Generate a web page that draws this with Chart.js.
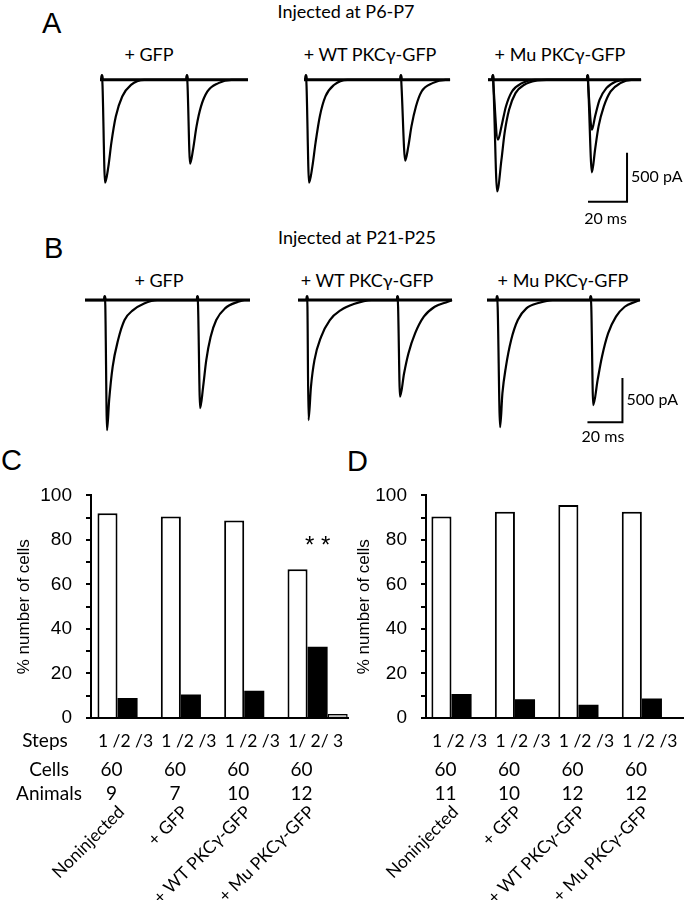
<!DOCTYPE html>
<html>
<head>
<meta charset="utf-8">
<script src="https://cdn.jsdelivr.net/npm/chart.js@4.4.0/dist/chart.umd.min.js"></script>
<style>
  body { margin: 0; background: #fff; }
  #fig { position: relative; width: 685px; height: 900px; overflow: hidden; color: #000; font-family: Lato, sans-serif; }
  #fig canvas { position: absolute; }
  .txt { position: absolute; white-space: nowrap; font-size: 18px; line-height: 1; transform: translate(-50%, -50%); }
  .letter { position: absolute; font-family: 'Liberation Sans', Arial, sans-serif; font-size: 29px; line-height: 1; transform: translateY(-50%); }
</style>
</head>
<body>
<div id="fig">
  <div class="letter" style="left:42px;top:23px">A</div>
  <div class="txt" style="left:346px;top:11px">Injected at P6-P7</div>
  <div class="txt" style="left:149px;top:54px">+ GFP</div>
  <div class="txt" style="left:370px;top:54px">+ WT PKCγ-GFP</div>
  <div class="txt" style="left:560px;top:54px">+ Mu PKCγ-GFP</div>

  <div class="letter" style="left:44px;top:248px">B</div>
  <div class="txt" style="left:357px;top:237px">Injected at P21-P25</div>
  <div class="txt" style="left:159px;top:280px">+ GFP</div>
  <div class="txt" style="left:367px;top:280px">+ WT PKCγ-GFP</div>
  <div class="txt" style="left:563px;top:280px">+ Mu PKCγ-GFP</div>

  <div class="letter" style="left:1px;top:460px">C</div>
  <div class="letter" style="left:347px;top:461px">D</div>
</div>
<script>
// ---- A: injected at P6-P7, traces as [ms, pA]
const aGfpFail = [[0,0],[0.8,0],[1.0,45],[1.3,0],[44.4,0],[44.6,45],[44.9,0],[75.9,0]];
const aGfpResp = [[0,0],[0.8,0],[1.0,45],[1.3,-60],[2.6,-1051],[4.3,-884],[5.8,-646],[8.1,-374],[11.4,-170],[15.9,-51],[22.7,0],
                  [44.4,0],[44.6,45],[44.9,-60],[46.2,-857],[47.7,-714],[49.5,-476],[51.8,-272],[55.1,-119],[60.7,-34],[67.4,0],[75.9,0]];
const aWtFail = [[0,0],[0.8,0],[1.0,45],[1.3,0],[49.5,0],[49.7,45],[50.0,0],[74.9,0]];
const aWtResp = [[0,0],[0.8,0],[1.0,45],[1.3,-60],[2.6,-1051],[4.3,-884],[5.9,-646],[8.1,-374],[11.0,-170],[15.5,-51],[22.2,0],
                 [49.5,0],[49.7,45],[50.0,-60],[51.9,-826],[53.5,-680],[55.1,-476],[57.4,-272],[60.3,-119],[65.9,-34],[72.6,0],[74.9,0]];
const aMuFail = [[0,0],[2.3,0],[2.5,45],[2.8,0],[50.9,0],[51.1,45],[51.4,0],[78.5,0]];
const aMuSmall = [[0,0],[2.3,0],[2.5,45],[2.8,-60],[5.1,-612],[6.9,-476],[9.2,-272],[12.3,-119],[17.4,-34],[24.1,0],
                  [50.9,0],[51.1,45],[51.4,-60],[53.3,-510],[54.9,-374],[57.2,-204],[60.7,-85],[65.6,-17],[70.1,0],[78.5,0]];
const aMuBig = [[0,0],[2.3,0],[2.5,45],[2.8,-60],[4.7,-1139],[6.9,-816],[8.5,-544],[10.8,-306],[14.1,-136],[18.6,-51],[25.3,-7],[30,0],
                [50.9,0],[51.1,45],[51.4,-60],[53.3,-945],[54.9,-714],[56.7,-476],[59.4,-272],[62.9,-119],[67.9,-34],[73.5,0],[78.5,0]];

// ---- B: injected at P21-P25
const bGfpFail = [[0,0],[11.1,0],[11.3,40],[11.6,0],[64.1,0],[64.3,40],[64.6,0],[94.3,0]];
const bGfpResp = [[0,0],[11.1,0],[11.3,40],[11.6,-60],[12.6,-1477],[13.8,-1136],[15.8,-758],[18.9,-454],[22.6,-227],[27.5,-114],[33.8,-38],[41.3,0],
                  [64.1,0],[64.3,40],[64.6,-60],[65.8,-1227],[67.5,-985],[69.3,-682],[71.8,-417],[75.0,-227],[80.0,-95],[87.5,-19],[91.2,0],[94.3,0]];
const bWtFail = [[0,0],[5.0,0],[5.2,40],[5.5,0],[56.7,0],[56.9,40],[57.2,0],[88,0]];
const bWtResp = [[0,0],[5.0,0],[5.2,40],[5.4,-80],[6.0,-1363],[7.4,-985],[9.4,-682],[13.2,-417],[18.2,-227],[24.5,-114],[31.9,-45],[41.9,0],
                 [56.7,0],[56.9,40],[57.2,-80],[58.3,-1098],[60.6,-833],[63.1,-606],[66.9,-379],[71.9,-189],[78.1,-76],[85.6,-19],[88,0]];
const bMuFail = [[0,0],[5.6,0],[5.8,40],[6.1,0],[59.1,0],[59.3,40],[59.6,0],[87.4,0]];
const bMuResp = [[0,0],[5.6,0],[5.8,40],[6.1,-80],[7.5,-1443],[8.8,-1060],[10.8,-758],[13.8,-454],[17.6,-227],[22.5,-95],[30.0,-30],[37.5,0],
                 [59.1,0],[59.3,40],[59.6,-80],[60.7,-1193],[63.2,-909],[65.7,-644],[69.2,-379],[73.7,-189],[78.7,-76],[84.9,-19],[87.4,0]];

// ---- C / D: % cells with 1, 2 or 3 steps
const groups = ['Noninjected', '+ GFP', '+ WT PKCγ-GFP', '+ Mu PKCγ-GFP'];
const stepsC = ['1 /2 /3', '1 /2 /3', '1 /2 /3', '1/ 2/ 3'];
const cellsC = [60, 60, 60, 60];
const animalsC = [9, 7, 10, 12];
const oneStepC = [92, 90.5, 88.7, 66.8];
const twoStepC = [9, 10.6, 12.2, 32];
const threeStepC = [0, 0, 0, 1.8];

const stepsD = ['1 /2 /3', '1 /2 /3', '1 /2 /3', '1 /2 /3'];
const cellsD = [60, 60, 60, 60];
const animalsD = [11, 10, 12, 12];
const oneStepD = [90.5, 92.6, 95.7, 92.6];
const twoStepD = [10.8, 8.4, 5.9, 8.8];
const threeStepD = [0, 0, 0, 0];

Chart.defaults.font.family = "'Liberation Sans', Arial, sans-serif";
Chart.defaults.color = '#000';
Chart.defaults.animation = false;
Chart.defaults.plugins.legend.display = false;
Chart.defaults.plugins.tooltip.enabled = false;

const fig = document.getElementById('fig');

function addCanvas(left, top, w, h) {
  const c = document.createElement('canvas');
  c.width = w;
  c.height = h;
  c.style.left = left + 'px';
  c.style.top = top + 'px';
  fig.appendChild(c);
  return c;
}

//============ scale bar (20 ms / 500 pA)
const scaleBarPlugin = {
  id: 'scaleBar',
  afterDraw(chart, args, o) {
    const x = chart.scales.x, y = chart.scales.y, ctx = chart.ctx;
    const x1 = x.getPixelForValue(o.t), y1 = y.getPixelForValue(o.pA);
    const x0 = x.getPixelForValue(o.t - o.ms), y0 = y.getPixelForValue(o.pA + o.amp);
    ctx.save();
    ctx.strokeStyle = '#000';
    ctx.lineWidth = 2;
    ctx.beginPath();
    ctx.moveTo(x0, y1);
    ctx.lineTo(x1, y1);
    ctx.lineTo(x1, y0);
    ctx.stroke();
    ctx.fillStyle = '#000';
    ctx.font = '16px Lato';
    ctx.textBaseline = 'middle';
    ctx.textAlign = 'left';
    ctx.fillText(o.amp + ' pA', x1 + 4, (y0 + y1) / 2);
    ctx.textAlign = 'center';
    ctx.fillText(o.ms + ' ms', (x0 + x1) / 2 - 2, y1 + o.gap);
    ctx.restore();
  }
};

const rowA = { top: 70, msPx: 1.95, yMin: -1840, yMax: 100, height: 190 };
const rowB = { top: 290, msPx: 1.75, yMin: -1600, yMax: 114, height: 151 };

function traceChart(left, row, dur, traces, bar) {
  const pad = 6;
  const areaW = dur * row.msPx;
  const w = bar ? 685 - (left - pad) : Math.round(areaW + 2 * pad);
  const rightPad = w - pad - areaW;
  const bottomPad = bar ? 30 : pad;
  const canvas = addCanvas(left - pad, row.top - pad, w, row.height + pad + bottomPad);
  return new Chart(canvas, {
    type: 'line',
    data: {
      datasets: traces.map((pts, k) => ({
        data: pts.map(p => ({ x: p[0], y: p[1] })),
        borderColor: '#000',
        borderWidth: k === 0 ? 3 : 2.2,
        pointRadius: 0,
        cubicInterpolationMode: 'monotone',
        clip: false
      }))
    },
    options: {
      responsive: false,
      devicePixelRatio: 1,
      events: [],
      layout: { padding: { left: pad, top: pad, right: rightPad, bottom: bottomPad } },
      scales: {
        x: { type: 'linear', display: false, min: 0, max: dur },
        y: { type: 'linear', display: false, min: row.yMin, max: row.yMax }
      },
      plugins: { scaleBar: bar || false }
    },
    plugins: [scaleBarPlugin]
  });
}

traceChart(100, rowA, 75.9, [aGfpFail, aGfpResp]);
traceChart(304, rowA, 74.9, [aWtFail, aWtResp]);
traceChart(488, rowA, 78.5, [aMuFail, aMuSmall, aMuBig], { t: 71.3, pA: -1245, ms: 20, amp: 500, gap: 17 });

traceChart(85, rowB, 94.3, [bGfpFail, bGfpResp]);
traceChart(298, rowB, 88, [bWtFail, bWtResp]);
traceChart(487, rowB, 87.4, [bMuFail, bMuResp], { t: 77.4, pA: -1386, ms: 20, amp: 500, gap: 15 });

//============ table under the bars
const tablePlugin = {
  id: 'table',
  afterDraw(chart, args, o) {
    const ctx = chart.ctx, xs = chart.scales.x, ys = chart.scales.y;
    const b = chart.chartArea.bottom;
    ctx.save();
    ctx.fillStyle = '#000';
    ctx.textBaseline = 'middle';
    ctx.textAlign = 'center';
    ctx.font = '19px Lato';
    if (o.headers) {
      ctx.fillText('Steps', 45, b + 23);
      ctx.fillText('Cells', 49, b + 52);
      ctx.fillText('Animals', 49, b + 76);
    }
    groups.forEach((name, i) => {
      const px = xs.getPixelForValue(i);
      ctx.textAlign = 'center';
      ctx.font = '17.5px Lato';
      ctx.fillText(o.steps[i], px - 2, b + 23);
      ctx.font = '19px Lato';
      ctx.fillText(String(o.cells[i]), px - 16, b + 52);
      ctx.fillText(String(o.animals[i]), px - 16, b + 76);
      ctx.save();
      ctx.translate(px - 6, b + 91);
      ctx.rotate(-Math.PI / 4);
      ctx.font = '17.5px Lato';
      ctx.textAlign = 'right';
      ctx.fillText(name, 0, 0);
      ctx.restore();
    });
    if (o.stars !== undefined) {
      ctx.font = '24px "Liberation Sans"';
      ctx.textAlign = 'center';
      ctx.fillText('* *', xs.getPixelForValue(o.stars), ys.getPixelForValue(o.starsAt));
    }
    ctx.restore();
  }
};

function barChart(left, axisX, xmin, xmax, one, two, three, table) {
  const canvasW = left === 0 ? 350 : 685 - left;
  const canvas = addCanvas(left, 470, canvasW, 430);
  const xy = v => v.map((y, i) => ({ x: i, y: y }));
  return new Chart(canvas, {
    type: 'bar',
    data: {
      datasets: [
        { data: xy(one), backgroundColor: '#fff', borderColor: '#000', borderWidth: 2 },
        { data: xy(two), backgroundColor: '#000', borderColor: '#000', borderWidth: 0 },
        { data: xy(three), backgroundColor: '#c4c4c4', borderColor: '#000', borderWidth: 1.5 }
      ]
    },
    options: {
      responsive: false,
      devicePixelRatio: 1,
      events: [],
      categoryPercentage: 0.95,
      barPercentage: 1,
      layout: { padding: { left: 0, top: 12, right: 2, bottom: 0 } },
      scales: {
        x: {
          type: 'linear', min: xmin, max: xmax, offset: false,
          grid: { display: false },
          ticks: { display: false },
          border: { display: true, color: '#000', width: 2 },
          afterFit: s => { s.height = 182; }
        },
        y: {
          min: 0, max: 100,
          ticks: { stepSize: 10, autoSkip: false, padding: 14, font: { size: 19 },
                   callback: v => (v % 20 === 0 ? v : '') },
          grid: { drawOnChartArea: false, drawTicks: true, tickLength: 5, color: '#000', lineWidth: 2 },
          border: { display: true, color: '#000', width: 2 },
          title: { display: true, text: '% number of cells', font: { size: 17 }, padding: { top: table.titlePad, bottom: 0 } },
          afterFit: s => { s.width = axisX - left; }
        }
      },
      plugins: { table: table }
    },
    plugins: [tablePlugin]
  });
}

barChart(0, 91, -0.577, 3.48, oneStepC, twoStepC, threeStepC,
  { headers: true, steps: stepsC, cells: cellsC, animals: animalsC, stars: 3, starsAt: 77, titlePad: 14 });
barChart(345, 426, -0.56, 3.49, oneStepD, twoStepD, threeStepD,
  { headers: false, steps: stepsD, cells: cellsD, animals: animalsD, titlePad: 9 });
</script>
</body>
</html>
